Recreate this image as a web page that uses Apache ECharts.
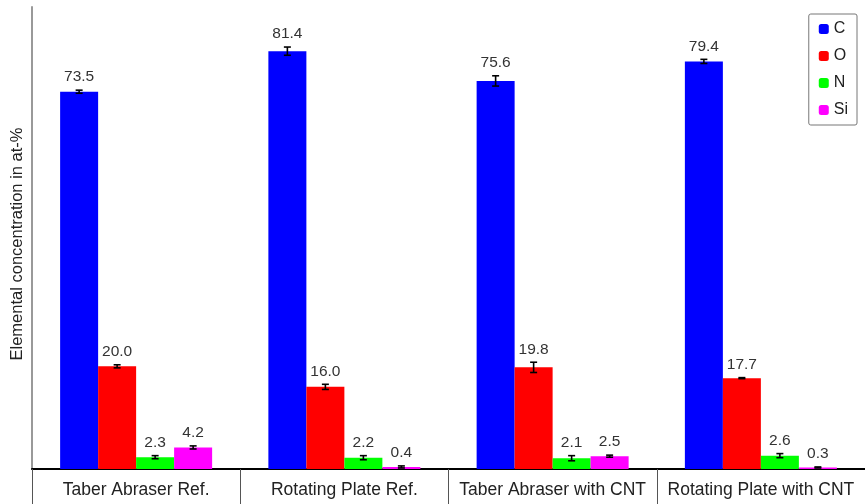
<!DOCTYPE html>
<html>
<head>
<meta charset="utf-8">
<script src="https://cdn.jsdelivr.net/npm/echarts@6/dist/echarts.min.js"></script>
<style>
  html, body { margin: 0; padding: 0; background: #fff; }
  #main { width: 865px; height: 504px; }
</style>
</head>
<body>
<div id="main"></div>
<script>
var categories = ['Taber Abraser Ref.', 'Rotating Plate Ref.', 'Taber Abraser with CNT', 'Rotating Plate with CNT'];
var elements = ['C', 'O', 'N', 'Si'];
var colors = ['#0000ff', '#ff0000', '#00ff00', '#ff00ff'];

// values in at-%
var valC = [73.5, 81.4, 75.6, 79.4];
var valO = [20.0, 16.0, 19.8, 17.7];
var valN = [2.3, 2.2, 2.1, 2.6];
var valSi = [4.2, 0.4, 2.5, 0.3];

// error bar half widths (estimated)
var errC = [0.3, 0.8, 1.0, 0.4];
var errO = [0.3, 0.5, 1.0, 0.1];
var errN = [0.3, 0.4, 0.5, 0.4];
var errSi = [0.3, 0.2, 0.2, 0.1];

var values = [valC, valO, valN, valSi];
var errors = [errC, errO, errN, errSi];

var barW = 38;
var font = 'Liberation Sans, Arial, sans-serif';

var chart = echarts.init(document.getElementById('main'));

var series = [];
values.forEach(function (vals, k) {
  series.push({
    name: elements[k],
    type: 'bar',
    barWidth: barW,
    barGap: '0%',
    itemStyle: { color: colors[k] },
    data: vals
  });
});

// error bars + value labels
var errData = [];
values.forEach(function (vals, k) {
  vals.forEach(function (v, i) {
    errData.push([i, v - errors[k][i], v + errors[k][i], k, v]);
  });
});

series.push({
  type: 'custom',
  silent: true,
  z: 10,
  data: errData,
  renderItem: function (params, api) {
    var k = api.value(3);
    var lo = api.coord([api.value(0), api.value(1)]);
    var hi = api.coord([api.value(0), api.value(2)]);
    var x = lo[0] + (k - 1.5) * barW;
    var cap = 3.5;
    var style = { stroke: '#000', lineWidth: 1.6 };
    return {
      type: 'group',
      children: [
        { type: 'line', shape: { x1: x, y1: lo[1], x2: x, y2: hi[1] }, style: style },
        { type: 'line', shape: { x1: x - cap, y1: lo[1], x2: x + cap, y2: lo[1] }, style: style },
        { type: 'line', shape: { x1: x - cap, y1: hi[1], x2: x + cap, y2: hi[1] }, style: style },
        {
          type: 'text',
          style: {
            x: x, y: hi[1] - 5,
            text: api.value(4).toFixed(1),
            align: 'center', verticalAlign: 'bottom',
            fill: '#333', font: '15.5px ' + font
          }
        }
      ]
    };
  }
});

var option = {
  animation: false,
  grid: { left: 32, right: 0, top: 7, bottom: 35 },
  legend: {
    data: elements,
    orient: 'vertical',
    right: 8,
    top: 14,
    itemWidth: 10,
    itemHeight: 10,
    itemGap: 11,
    padding: [7, 9, 7, 10],
    borderColor: '#777',
    borderWidth: 1,
    borderRadius: 2,
    textStyle: { fontFamily: font, fontSize: 16, lineHeight: 16, color: '#222' }
  },
  xAxis: {
    type: 'category',
    data: categories,
    boundaryGap: true,
    axisLine: { lineStyle: { color: '#000', width: 2 } },
    axisTick: { show: true, interval: 0, length: 35, lineStyle: { color: '#555', width: 1 } },
    axisLabel: { interval: 0, fontFamily: font, fontSize: 17.5, color: '#222', margin: 12 }
  },
  yAxis: {
    type: 'value',
    min: 0,
    max: 90,
    name: 'Elemental concentration in at-%',
    nameLocation: 'middle',
    nameGap: 6,
    nameTextStyle: { fontFamily: font, fontSize: 16.5, color: '#222', padding: [0, 12, 0, 0] },
    axisLine: { show: true, lineStyle: { color: '#999', width: 2 } },
    axisTick: { show: false },
    axisLabel: { show: false },
    splitLine: { show: false }
  },
  series: series
};

chart.setOption(option);
</script>
</body>
</html>
